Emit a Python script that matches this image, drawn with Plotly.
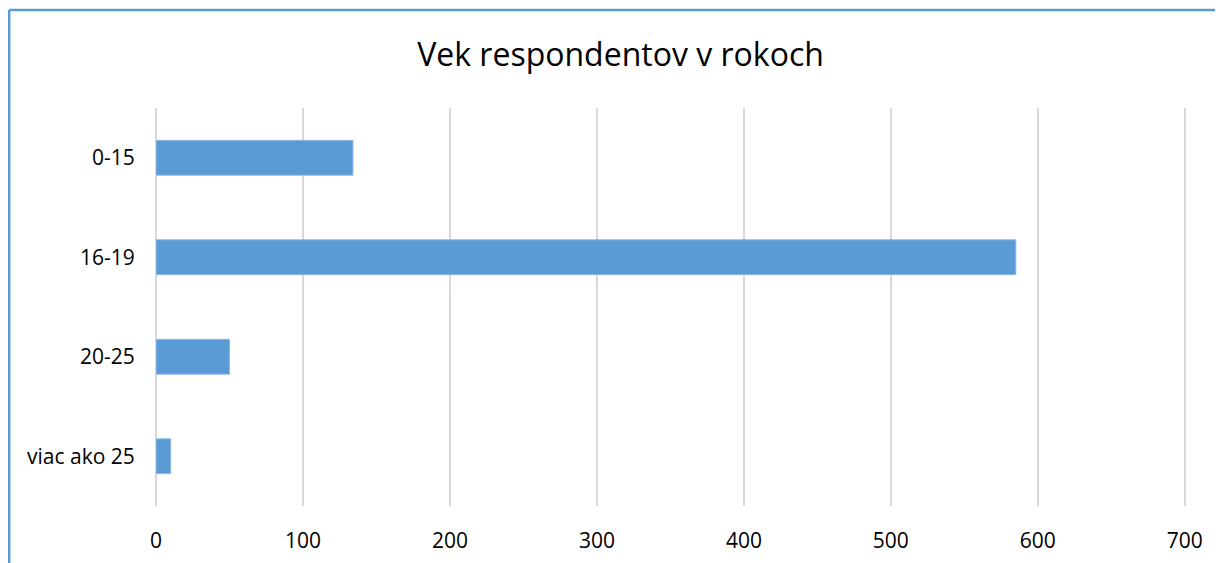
import plotly.graph_objects as go

# Data
categories = ['0-15', '16-19', '20-25', 'viac ako 25']
values = [134, 585, 50, 10]
x_ticks = [0, 100, 200, 300, 400, 500, 600, 700]

# page has an 8px body margin, so the figure is placed 8px in
W, H = 1223, 563
L, R, T, B = 148, 45, 100, 65

fig = go.Figure(go.Bar(
    y=categories,
    x=values,
    orientation='h',
    marker=dict(color='#5B9BD5', line=dict(color='#8DB8E2', width=1)),
))

# frame lines (top and left edge of the chart box)
pw, ph = W - L - R, H - T - B
fx = (1.2 - L) / pw
fy = 1 + (T - 2) / ph
fig.add_shape(type='line', xref='paper', yref='paper', x0=fx, x1=(W - L + 5) / pw,
              y0=fy, y1=fy, line=dict(color='#5B9BD5', width=2.5))
fig.add_shape(type='line', xref='paper', yref='paper', x0=fx, x1=fx,
              y0=fy, y1=-(B + 5) / ph, line=dict(color='#5B9BD5', width=2.5))

fig.update_layout(
    width=W, height=H,
    margin=dict(l=L, r=R, t=T, b=B),
    paper_bgcolor='white', plot_bgcolor='white',
    font=dict(family='Open Sans', color='#000000', size=21),
    title=dict(text='Vek respondentov v rokoch', x=612.5 / W, xanchor='center',
               y=1 - 47 / H, yanchor='middle', yref='container',
               font=dict(size=32, color='#000000')),
    bargap=0.65,
    showlegend=False,
)
# range a hair past 700 so the last grid line is still drawn
fig.update_xaxes(range=[0, 700.8], tickvals=x_ticks, showgrid=True, gridcolor='#D9D9D9',
                 gridwidth=2, zeroline=True, zerolinecolor='#D9D9D9', zerolinewidth=2,
                 showline=False, ticks='outside', ticklen=16, tickcolor='rgba(0,0,0,0)')
fig.update_yaxes(autorange='reversed', showgrid=False, ticks='outside', ticklen=16,
                 tickcolor='rgba(0,0,0,0)', showline=False)

fig.write_html("out.html")
